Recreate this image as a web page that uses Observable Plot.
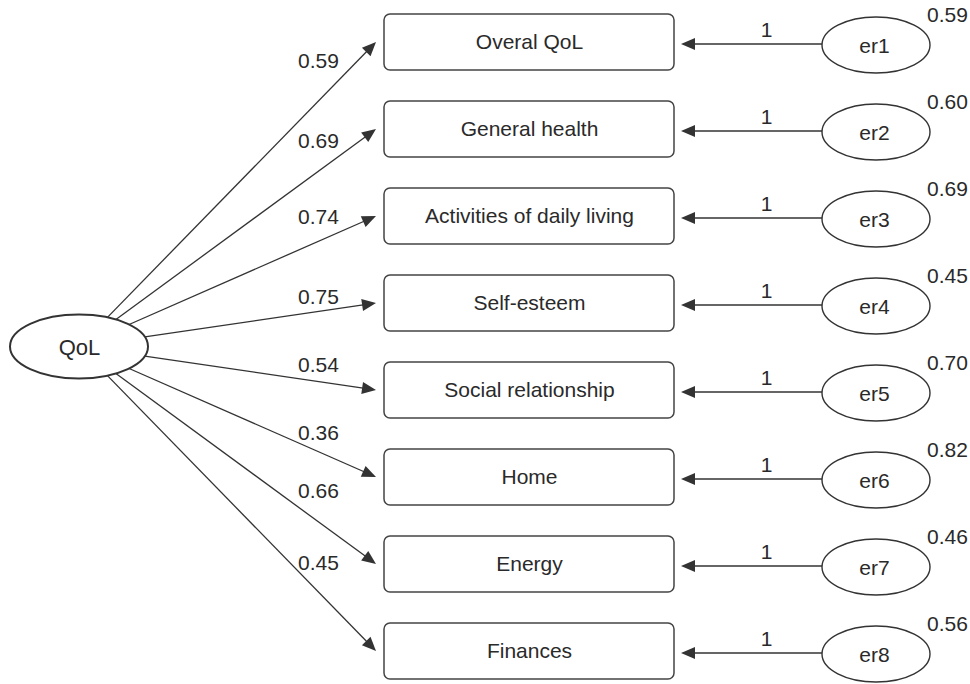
<!DOCTYPE html>
<html>
<head>
<meta charset="utf-8">
<script src="https://cdn.jsdelivr.net/npm/d3@7"></script>
<script src="https://cdn.jsdelivr.net/npm/@observablehq/plot@0.6"></script>
<style>
  html, body { margin: 0; padding: 0; background: #fff; }
  #chart svg { display: block; }
</style>
</head>
<body>
<div id="chart"></div>
<script>
// ---------- DATA ----------
const latent = "QoL";
const indicators = ["Overal QoL", "General health", "Activities of daily living", "Self-esteem",
                    "Social relationship", "Home", "Energy", "Finances"];
const loadings = [0.59, 0.69, 0.74, 0.75, 0.54, 0.36, 0.66, 0.45];
const errorNames = ["er1", "er2", "er3", "er4", "er5", "er6", "er7", "er8"];
const errorPaths = [1, 1, 1, 1, 1, 1, 1, 1];
const errorVariances = [0.59, 0.60, 0.69, 0.45, 0.70, 0.82, 0.46, 0.56];

// ---------- LAYOUT (positions / sizes / styles) ----------
const W = 970, H = 684;
const rowPx = 87;                       // pixels between rows
const latentX = 79, latentRow = 3.5, latentRx = 69, latentRy = 32;
const boxX1 = 384, boxX2 = 674, boxH = 56, boxR = 6;
const tipX = 376;                       // tip of loading arrows
const labelX = 318;
const labelDy = [19, 12, 1, -6, -25, -44, -73, -88];   // label offset from row, px
const errX = 876, errRx = 54, errRy = 28, errDy = 3;
const errTipX = 681, errLineDy = 2;
const oneX = 766, oneDy = -12;
const varX = 947, varDy = -27;
const headLen = 14, headHalf = 6;
const ink = "#333";
const textInk = "#2a2a2a";
const fs = 21;
const font = "'Liberation Sans', Arial, Helvetica, sans-serif";

const rows = indicators.map((name, i) => ({
  name, i, loading: loadings[i], err: errorNames[i],
  path: errorPaths[i], variance: errorVariances[i]
}));

// arrow with filled head; start optionally clipped to an ellipse boundary
function arrowsMark(segs) {
  return (index, scales) => {
    const g = d3.create("svg:g").attr("stroke", ink).attr("fill", ink);
    for (const s of segs) {
      let x1 = scales.x(s.x1), y1 = scales.y(s.y1);
      const x2 = scales.x(s.x2), y2 = scales.y(s.y2);
      if (s.clip) {
        const dx = x2 - x1, dy = y2 - y1;
        const t = 1 / Math.sqrt((dx / s.clip.rx) ** 2 + (dy / s.clip.ry) ** 2);
        x1 += dx * t; y1 += dy * t;
      }
      const len = Math.hypot(x2 - x1, y2 - y1);
      const ux = (x2 - x1) / len, uy = (y2 - y1) / len;
      const bx = x2 - ux * headLen, by = y2 - uy * headLen;
      g.append("line").attr("x1", x1).attr("y1", y1).attr("x2", bx + ux).attr("y2", by + uy)
        .attr("stroke-width", 1.3);
      g.append("path")
        .attr("d", `M${x2},${y2}L${bx - uy * headHalf},${by + ux * headHalf}L${bx + uy * headHalf},${by - ux * headHalf}Z`)
        .attr("stroke", "none");
    }
    return g.node();
  };
}

function ellipsesMark(items) {
  return (index, scales) => {
    const g = d3.create("svg:g");
    for (const e of items) {
      g.append("ellipse")
        .attr("cx", scales.x(e.x)).attr("cy", scales.y(e.y))
        .attr("rx", e.rx).attr("ry", e.ry)
        .attr("fill", "#fff").attr("stroke", ink).attr("stroke-width", e.sw);
    }
    return g.node();
  };
}

const loadingArrows = rows.map(r => ({
  x1: latentX, y1: latentRow, x2: tipX, y2: r.i,
  clip: {rx: latentRx, ry: latentRy}
}));
const errorArrows = rows.map(r => ({
  x1: errX - errRx, y1: r.i + errLineDy / rowPx, x2: errTipX, y2: r.i + errLineDy / rowPx
}));

const chart = Plot.plot({
  width: W, height: H,
  margin: 0,
  x: {domain: [0, W], range: [0, W], axis: null},
  y: {domain: [0, 7], range: [42, 42 + 7 * rowPx], axis: null},
  style: {fontFamily: font, color: ink, background: "#fff"},
  marks: [
    arrowsMark(loadingArrows),
    arrowsMark(errorArrows),
    Plot.rect(rows, {
      x1: () => boxX1, x2: () => boxX2,
      y1: d => d.i - 0.5, y2: d => d.i + 0.5,
      insetTop: (rowPx - boxH) / 2, insetBottom: (rowPx - boxH) / 2,
      rx: boxR, fill: "#fff", stroke: "#444", strokeWidth: 1.5
    }),
    Plot.text(rows, {
      x: () => (boxX1 + boxX2) / 2, y: d => d.i, text: d => d.name,
      fontSize: fs, fill: textInk
    }),
    ellipsesMark([
      {x: latentX, y: latentRow, rx: latentRx, ry: latentRy, sw: 2},
      ...rows.map(r => ({x: errX, y: r.i + errDy / rowPx, rx: errRx, ry: errRy, sw: 1.4}))
    ]),
    Plot.text([latent], {x: () => latentX, y: () => latentRow, text: d => d, fontSize: 22, fill: textInk, dy: 1}),
    Plot.text(rows, {
      x: () => errX - 2, y: d => d.i + errDy / rowPx, text: d => d.err,
      fontSize: fs, fill: textInk, dy: 1
    }),
    Plot.text(rows, {
      x: () => labelX, y: d => d.i + labelDy[d.i] / rowPx, text: d => d.loading.toFixed(2),
      fontSize: fs, fill: textInk
    }),
    Plot.text(rows, {
      x: () => oneX, y: d => d.i + oneDy / rowPx, text: d => String(d.path),
      fontSize: fs, fill: textInk
    }),
    Plot.text(rows, {
      x: () => varX, y: d => d.i + varDy / rowPx, text: d => d.variance.toFixed(2),
      fontSize: fs, fill: textInk
    })
  ]
});
document.getElementById("chart").appendChild(chart);
</script>
</body>
</html>
